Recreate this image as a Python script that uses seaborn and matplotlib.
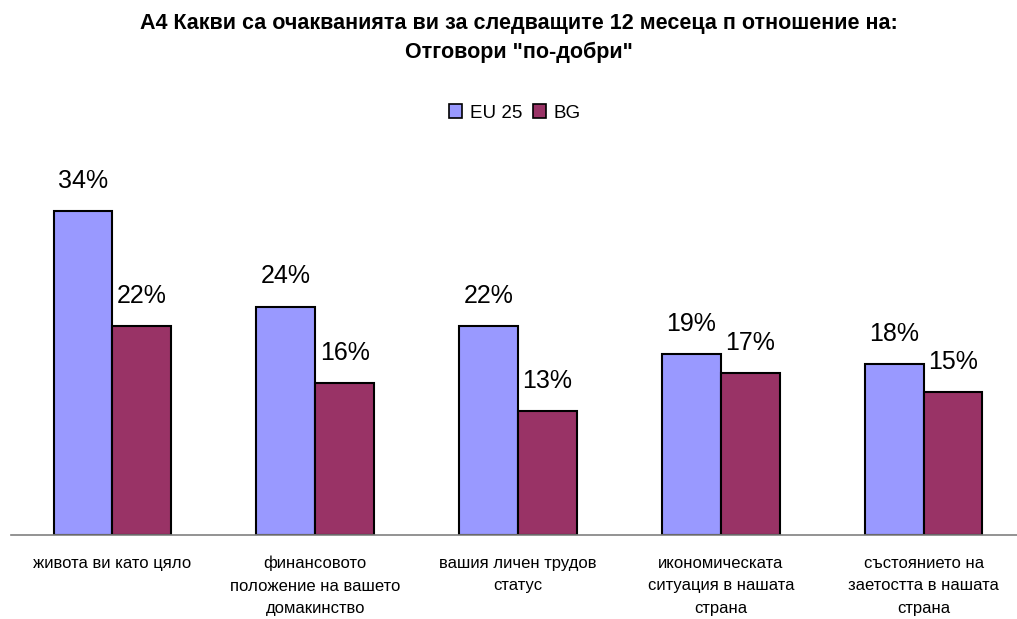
import matplotlib
matplotlib.use("Agg")
import matplotlib.pyplot as plt
import seaborn as sns
import pandas as pd
import numpy as np
from matplotlib.ticker import FixedLocator

categories = [
    "живота ви като цяло",
    "финансовото\nположение на вашето\nдомакинство",
    "вашия личен трудов\nстатус",
    "икономическата\nситуация в нашата\nстрана",
    "състоянието на\nзаетостта в нашата\nстрана",
]
series = ["EU 25", "BG"]
eu25 = [34, 24, 22, 19, 18]
bg = [22, 16, 13, 17, 15]
colors = ["#9999FF", "#993366"]
title = 'А4 Какви са очакванията ви за следващите 12 месеца п отношение на:\nОтговори "по-добри"'

df = pd.DataFrame({
    "category": categories * 2,
    "series": [series[0]] * len(categories) + [series[1]] * len(categories),
    "value": eu25 + bg,
})

sns.set_style("white")
plt.rcParams["font.family"] = ["Liberation Sans", "DejaVu Sans"]
plt.rcParams["text.color"] = "black"
plt.rcParams["xtick.color"] = "black"
plt.rcParams["xtick.labelcolor"] = "black"

W, H = 1017, 619
fig = plt.figure(figsize=(W / 100, H / 100), dpi=100)
ax_left = 11 / W
ax_bottom = (H - 535) / H
ax_w = 1014 / W
ax_h = 380.8 / H
ax = fig.add_axes([ax_left, ax_bottom, ax_w, ax_h])

sns.barplot(data=df, x="category", y="value", hue="series", palette=colors,
            order=categories, hue_order=series, width=0.58, ax=ax,
            edgecolor="black", linewidth=1.5, saturation=1, legend=True)

for cont in ax.containers:
    ax.bar_label(cont, labels=[f"{int(v)}%" for v in cont.datavalues],
                 padding=13, fontsize=18, color="black")

ax.set_xlim(-0.5, 4.5)
ax.set_ylim(0, 40)
ax.set_xlabel("")
ax.set_ylabel("")
ax.set_yticks([])
for s in ["top", "right", "left"]:
    ax.spines[s].set_visible(False)
ax.spines["bottom"].set_color("#808080")
ax.spines["bottom"].set_linewidth(1.2)

ax.set_xticks(range(len(categories)))
ax.set_xticklabels(categories, fontsize=12, linespacing=1.62, color="black")
ax.tick_params(axis="x", which="major", length=0, pad=15)
ax.xaxis.set_minor_locator(FixedLocator(np.arange(-0.5, 5.0, 1.0)))
ax.tick_params(axis="x", which="minor", length=4, width=1.2, color="#808080",
               direction="out")

leg = ax.legend(loc="center", bbox_to_anchor=(515 / W, 1 - 113 / H),
                bbox_transform=fig.transFigure, ncol=2, frameon=False,
                fontsize=13.5, handlelength=0.7, handleheight=0.7,
                handletextpad=0.4, columnspacing=0.6, borderaxespad=0)
for t in leg.get_texts():
    t.set_color("black")
for h in leg.legend_handles:
    h.set_edgecolor("black")
    h.set_linewidth(1.2)

fig.text(519 / W, 1 - 38 / H, title, ha="center", va="center",
         fontsize=15.5, fontweight="bold", linespacing=1.45, color="black")

fig.savefig("out.png", dpi=100)
